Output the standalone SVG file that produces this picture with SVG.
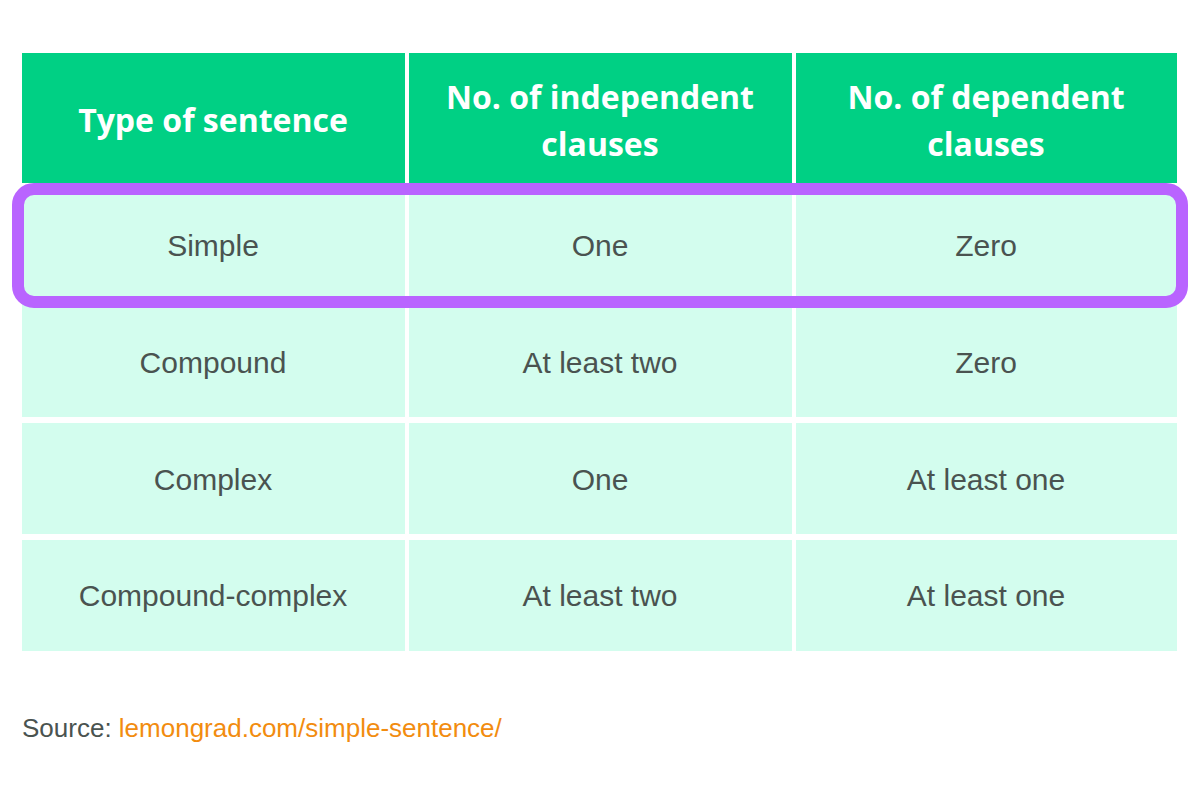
<svg xmlns="http://www.w3.org/2000/svg" width="1200" height="800" viewBox="0 0 1200 800">
<style>
.h{fill:#00d084}.c{fill:#d3fdee}
.ht{font-family:"Open Sans",sans-serif;font-weight:bold;font-size:32px;fill:#fff;text-anchor:middle}
.bt{font-family:"Liberation Sans",Arial,sans-serif;font-size:30px;fill:#4a5350;text-anchor:middle}
</style>
<rect width="1200" height="800" fill="#fff"/>
<g id="header">
<rect class="h" x="22" y="53" width="383" height="130"/>
<rect class="h" x="409" y="53" width="383" height="130"/>
<rect class="h" x="796" y="53" width="381" height="130"/>
<text class="ht" x="213" y="132">Type of sentence</text>
<text class="ht" x="600" y="109">No. of independent</text>
<text class="ht" x="600" y="156">clauses</text>
<text class="ht" x="986" y="109">No. of dependent</text>
<text class="ht" x="986" y="156">clauses</text>
</g>
<g id="row1">
<rect class="c" x="22" y="187" width="383" height="115"/>
<rect class="c" x="409" y="187" width="383" height="115"/>
<rect class="c" x="796" y="187" width="381" height="115"/>
<text class="bt" x="213" y="256">Simple</text>
<text class="bt" x="600" y="256">One</text>
<text class="bt" x="986" y="256">Zero</text>
</g>
<g id="row2">
<rect class="c" x="22" y="302" width="383" height="115"/>
<rect class="c" x="409" y="302" width="383" height="115"/>
<rect class="c" x="796" y="302" width="381" height="115"/>
<text class="bt" x="213" y="373">Compound</text>
<text class="bt" x="600" y="373">At least two</text>
<text class="bt" x="986" y="373">Zero</text>
</g>
<g id="row3">
<rect class="c" x="22" y="423" width="383" height="111"/>
<rect class="c" x="409" y="423" width="383" height="111"/>
<rect class="c" x="796" y="423" width="381" height="111"/>
<text class="bt" x="213" y="490">Complex</text>
<text class="bt" x="600" y="490">One</text>
<text class="bt" x="986" y="490">At least one</text>
</g>
<g id="row4">
<rect class="c" x="22" y="540" width="383" height="111"/>
<rect class="c" x="409" y="540" width="383" height="111"/>
<rect class="c" x="796" y="540" width="381" height="111"/>
<text class="bt" x="213" y="606">Compound-complex</text>
<text class="bt" x="600" y="606">At least two</text>
<text class="bt" x="986" y="606">At least one</text>
</g>
<g id="highlight">
<rect x="18" y="189" width="1164" height="113" rx="16" fill="none" stroke="#b964ff" stroke-width="12"/>
</g>
<text x="22" y="737" font-family="Liberation Sans,Arial,sans-serif" font-size="26" fill="#4a5350">Source: <tspan fill="#f28c0f">lemongrad.com/simple-sentence/</tspan></text>
</svg>
